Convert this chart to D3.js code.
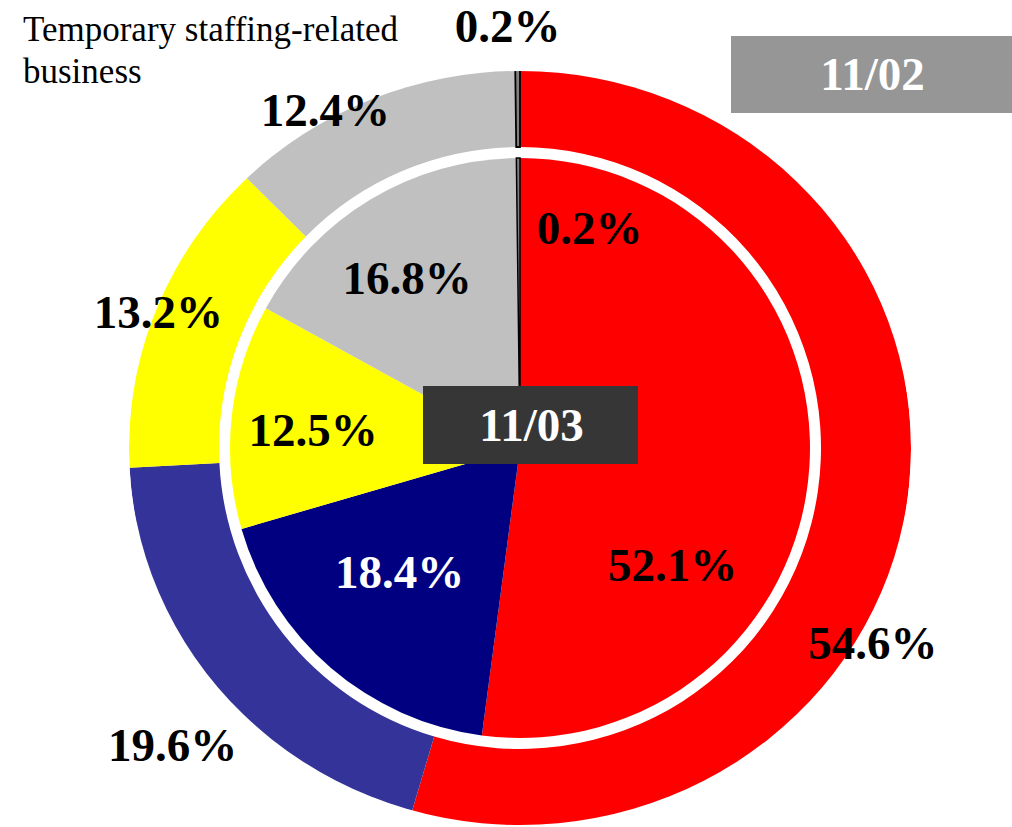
<!DOCTYPE html>
<html>
<head>
<meta charset="utf-8">
<script src="https://cdn.jsdelivr.net/npm/d3@7"></script>
<style>
  body { margin: 0; background: #fff; }
  svg { display: block; }
</style>
</head>
<body>
<div id="chart"></div>
<script>
// Values (share in %), clockwise from 12 o'clock
const segments = ["seg1", "seg2", "seg3", "seg4", "seg5"];
const outerValues = [54.6, 19.6, 13.2, 12.4, 0.2];   // 11/02 (outer ring)
const innerValues = [52.1, 18.4, 12.5, 16.8, 0.2];   // 11/03 (inner pie)
const outerPeriod = "11/02";
const innerPeriod = "11/03";
const titleLines = ["Temporary staffing-related", "business"];

// Styles
const outerColors = ["#ff0000", "#333399", "#ffff00", "#c0c0c0", "#808080"];
const innerColors = ["#ff0000", "#000080", "#ffff00", "#c0c0c0", "#808080"];
const innerTextColors = ["#000", "#fff", "#000", "#000", "#000"];

// Label nudges from the arc centroid (labels were moved by hand in the original)
const outerNudge = [[-43, 137], [-33, 50], [12, 7], [-38, 30], [-10, -22]];
const innerNudge = [[-47, 104], [10, -28], [-8, 4], [-10, 2], [71, -20]];

const width = 1012, height = 827;
const cx = 520, cy = 448;
const rInner = 290, rRingIn = 301, rRingOut = 391, ryOuter = 377;
const font = "'Liberation Serif', 'Times New Roman', serif";

const svg = d3.select("#chart")
  .append("svg")
  .attr("width", width)
  .attr("height", height);

// Ellipse clip for the outer ring (it is slightly flattened in the picture)
svg.append("defs").append("clipPath")
  .attr("id", "outerClip")
  .append("ellipse")
    .attr("cx", cx).attr("cy", cy)
    .attr("rx", rRingOut).attr("ry", ryOuter);

const pie = d3.pie().sort(null).value(d => d);

const outerArc = d3.arc().innerRadius(rRingIn).outerRadius(rRingOut);
const innerArc = d3.arc().innerRadius(0).outerRadius(rInner);
const outerLabelArc = d3.arc().innerRadius(400).outerRadius(400);
const innerLabelArc = d3.arc().innerRadius(200).outerRadius(200);

const outerData = pie(outerValues);
const innerData = pie(innerValues);

// Outer ring
svg.append("g")
  .attr("clip-path", "url(#outerClip)")
  .append("g")
  .attr("transform", `translate(${cx},${cy})`)
  .selectAll("path")
  .data(outerData)
  .enter()
  .append("path")
    .attr("d", outerArc)
    .attr("fill", (d, i) => outerColors[i])
    .attr("stroke", (d, i) => i === segments.length - 1 ? "#000" : "none")
    .attr("stroke-width", 1.8);

// Inner pie
const gIn = svg.append("g")
  .attr("transform", `translate(${cx},${cy})`);
gIn.selectAll("path")
  .data(innerData)
  .enter()
  .append("path")
    .attr("d", innerArc)
    .attr("fill", (d, i) => innerColors[i])
    .attr("stroke", (d, i) => i === segments.length - 1 ? "#000" : "none")
    .attr("stroke-width", 1.5);

// Percentage labels
const labels = svg.append("g")
  .attr("transform", `translate(${cx},${cy})`)
  .attr("font-family", font)
  .attr("font-weight", "bold")
  .attr("font-size", 47)
  .attr("text-anchor", "middle");

labels.selectAll("text.outer")
  .data(outerData)
  .enter()
  .append("text")
    .attr("class", "outer")
    .attr("x", (d, i) => outerLabelArc.centroid(d)[0] + outerNudge[i][0])
    .attr("y", (d, i) => outerLabelArc.centroid(d)[1] + outerNudge[i][1])
    .attr("dy", "0.34em")
    .attr("fill", "#000")
    .text(d => d.data.toFixed(1) + "%");

labels.selectAll("text.inner")
  .data(innerData)
  .enter()
  .append("text")
    .attr("class", "inner")
    .attr("x", (d, i) => innerLabelArc.centroid(d)[0] + innerNudge[i][0])
    .attr("y", (d, i) => innerLabelArc.centroid(d)[1] + innerNudge[i][1])
    .attr("dy", "0.34em")
    .attr("fill", (d, i) => innerTextColors[i])
    .text(d => d.data.toFixed(1) + "%");

// Period boxes
function periodBox(x, y, w, h, fill, label) {
  const g = svg.append("g");
  g.append("rect")
    .attr("x", x).attr("y", y)
    .attr("width", w).attr("height", h)
    .attr("fill", fill);
  g.append("text")
    .attr("x", x + w / 2 + 1)
    .attr("y", y + h / 2)
    .attr("dy", "0.34em")
    .attr("text-anchor", "middle")
    .attr("font-family", font)
    .attr("font-weight", "bold")
    .attr("font-size", 47)
    .attr("fill", "#fff")
    .text(label);
}
periodBox(423, 386, 215, 78, "#363636", innerPeriod);
periodBox(731, 36, 281, 77, "#969696", outerPeriod);

// Title text, top left
svg.append("text")
  .attr("font-family", font)
  .attr("font-size", 35)
  .attr("fill", "#000")
  .selectAll("tspan")
  .data(titleLines)
  .enter()
  .append("tspan")
    .attr("x", 23)
    .attr("y", (d, i) => 41 + i * 42)
    .text(d => d);
</script>
</body>
</html>
